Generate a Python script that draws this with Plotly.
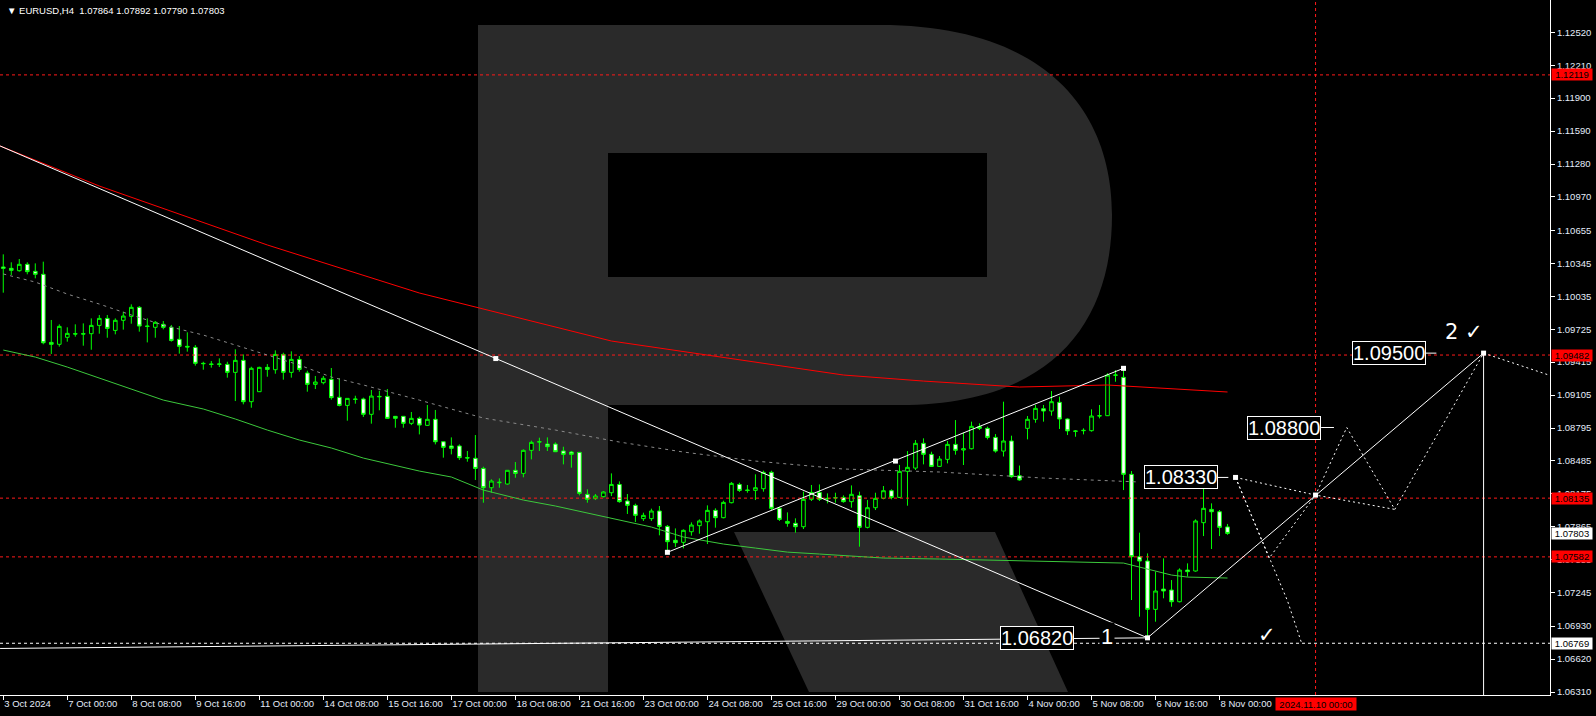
import plotly.graph_objects as go

# ---------------- DATA ----------------
opens = [1.10311, 1.10298, 1.10276, 1.10336, 1.10270, 1.10242, 1.09601, 1.09583, 1.09649, 1.09683,
         1.09683, 1.09683, 1.09761, 1.09827, 1.09714, 1.09809, 1.09846, 1.09931, 1.09755, 1.09743,
         1.09771, 1.09743, 1.09630, 1.09564, 1.09554, 1.09404, 1.09398, 1.09394, 1.09394, 1.09319,
         1.09432, 1.09043, 1.09137, 1.09366, 1.09344, 1.09488, 1.09319, 1.09441, 1.09313, 1.09206,
         1.09222, 1.09253, 1.09084, 1.09008, 1.09068, 1.09068, 1.08924, 1.09093, 1.09093, 1.08905,
         1.08905, 1.08839, 1.08886, 1.08820, 1.08877, 1.08666, 1.08626, 1.08626, 1.08516, 1.08510,
         1.08415, 1.08233, 1.08280, 1.08268, 1.08397, 1.08368, 1.08585, 1.08663, 1.08644, 1.08644,
         1.08579, 1.08569, 1.08566, 1.08171, 1.08130, 1.08149, 1.08186, 1.08264, 1.08108, 1.08067,
         1.07942, 1.07942, 1.08014, 1.07869, 1.07738, 1.07719, 1.07819, 1.07876, 1.07913, 1.08020,
         1.07951, 1.08092, 1.08264, 1.08211, 1.08208, 1.08224, 1.08378, 1.08039, 1.07916, 1.07898,
         1.07866, 1.08124, 1.08189, 1.08133, 1.08136, 1.08142, 1.08102, 1.08158, 1.07860, 1.08045,
         1.08133, 1.08205, 1.08142, 1.08387, 1.08418, 1.08651, 1.08547, 1.08434, 1.08500, 1.08641,
         1.08588, 1.08600, 1.08808, 1.08792, 1.08707, 1.08578, 1.08673, 1.08346, 1.08792, 1.08877,
         1.08977, 1.08955, 1.09037, 1.08880, 1.08768, 1.08770, 1.08770, 1.08908, 1.08911, 1.09291,
         1.09272, 1.08359, 1.07584, 1.07543, 1.07088, 1.07279, 1.07270, 1.07160, 1.07458, 1.07449,
         1.07904, 1.08029, 1.08007, 1.07864]
highs = [1.10430, 1.10355, 1.10386, 1.10355, 1.10345, 1.10361, 1.09812, 1.09771, 1.09743, 1.09771,
         1.09780, 1.09827, 1.09859, 1.09859, 1.09827, 1.09890, 1.09959, 1.09943, 1.09827, 1.09802,
         1.09802, 1.09765, 1.09755, 1.09696, 1.09576, 1.09419, 1.09426, 1.09451, 1.09419, 1.09536,
         1.09488, 1.09372, 1.09372, 1.09397, 1.09526, 1.09504, 1.09517, 1.09473, 1.09335, 1.09285,
         1.09285, 1.09360, 1.09263, 1.09074, 1.09099, 1.09081, 1.09153, 1.09146, 1.09162, 1.08905,
         1.08905, 1.08946, 1.08902, 1.09012, 1.08965, 1.08666, 1.08707, 1.08641, 1.08579, 1.08729,
         1.08431, 1.08312, 1.08321, 1.08397, 1.08475, 1.08594, 1.08676, 1.08704, 1.08707, 1.08660,
         1.08619, 1.08579, 1.08566, 1.08218, 1.08174, 1.08202, 1.08368, 1.08293, 1.08174, 1.08083,
         1.07998, 1.08036, 1.08061, 1.07882, 1.07850, 1.07841, 1.07907, 1.07935, 1.08067, 1.08039,
         1.08111, 1.08287, 1.08280, 1.08259, 1.08359, 1.08393, 1.08393, 1.08054, 1.08001, 1.07945,
         1.08196, 1.08259, 1.08264, 1.08180, 1.08186, 1.08161, 1.08255, 1.08196, 1.08117, 1.08186,
         1.08249, 1.08218, 1.08447, 1.08578, 1.08682, 1.08698, 1.08572, 1.08531, 1.08673, 1.08870,
         1.08751, 1.08855, 1.08839, 1.08808, 1.08738, 1.09043, 1.08723, 1.08442, 1.08908, 1.09012,
         1.09012, 1.09143, 1.09090, 1.08886, 1.08776, 1.08792, 1.08971, 1.09012, 1.09310, 1.09341,
         1.09357, 1.08390, 1.07810, 1.07615, 1.07443, 1.07568, 1.07364, 1.07474, 1.07521, 1.07935,
         1.08243, 1.08086, 1.08023, 1.07892]
lows = [1.10069, 1.10235, 1.10267, 1.10242, 1.10204, 1.09583, 1.09492, 1.09561, 1.09608, 1.09655,
        1.09570, 1.09532, 1.09683, 1.09645, 1.09677, 1.09721, 1.09777, 1.09702, 1.09601, 1.09645,
        1.09724, 1.09608, 1.09495, 1.09514, 1.09382, 1.09344, 1.09363, 1.09369, 1.09269, 1.09049,
        1.09018, 1.08986, 1.09134, 1.09278, 1.09306, 1.09250, 1.09269, 1.09325, 1.09137, 1.09162,
        1.09206, 1.09062, 1.08999, 1.08864, 1.09024, 1.08899, 1.08836, 1.08962, 1.08880, 1.08798,
        1.08798, 1.08823, 1.08735, 1.08814, 1.08641, 1.08516, 1.08547, 1.08494, 1.08478, 1.08306,
        1.08092, 1.08186, 1.08233, 1.08262, 1.08327, 1.08331, 1.08500, 1.08579, 1.08579, 1.08569,
        1.08453, 1.08422, 1.08161, 1.08092, 1.08117, 1.08142, 1.08155, 1.08092, 1.07986, 1.07910,
        1.07920, 1.07920, 1.07785, 1.07625, 1.07675, 1.07662, 1.07782, 1.07800, 1.07703, 1.07857,
        1.07945, 1.08086, 1.08193, 1.08186, 1.08117, 1.08196, 1.08023, 1.07920, 1.07866, 1.07810,
        1.07844, 1.08108, 1.08108, 1.08086, 1.08092, 1.08092, 1.08045, 1.07678, 1.07850, 1.08023,
        1.08124, 1.08124, 1.08139, 1.08064, 1.08400, 1.08453, 1.08431, 1.08431, 1.08462, 1.08544,
        1.08447, 1.08594, 1.08776, 1.08688, 1.08563, 1.08527, 1.08327, 1.08299, 1.08688, 1.08845,
        1.08855, 1.08911, 1.08786, 1.08729, 1.08713, 1.08735, 1.08761, 1.08886, 1.08908, 1.09231,
        1.08211, 1.07176, 1.07019, 1.06820, 1.06972, 1.07192, 1.07113, 1.07154, 1.07396, 1.07443,
        1.07778, 1.07656, 1.07778, 1.07790]
closes = [1.10298, 1.10279, 1.10336, 1.10267, 1.10242, 1.09598, 1.09583, 1.09752, 1.09686, 1.09680,
          1.09680, 1.09761, 1.09827, 1.09733, 1.09809, 1.09849, 1.09931, 1.09755, 1.09752, 1.09790,
          1.09743, 1.09620, 1.09564, 1.09558, 1.09404, 1.09401, 1.09394, 1.09398, 1.09319, 1.09432,
          1.09043, 1.09357, 1.09366, 1.09347, 1.09488, 1.09319, 1.09441, 1.09347, 1.09206, 1.09228,
          1.09263, 1.09081, 1.09008, 1.09074, 1.09065, 1.08924, 1.09096, 1.09090, 1.08886, 1.08886,
          1.08839, 1.08886, 1.08823, 1.08877, 1.08666, 1.08613, 1.08604, 1.08516, 1.08513, 1.08415,
          1.08233, 1.08296, 1.08284, 1.08397, 1.08368, 1.08585, 1.08660, 1.08666, 1.08619, 1.08572,
          1.08547, 1.08547, 1.08180, 1.08124, 1.08155, 1.08193, 1.08264, 1.08102, 1.08067, 1.07973,
          1.07973, 1.08014, 1.07869, 1.07725, 1.07716, 1.07832, 1.07882, 1.07920, 1.08020, 1.07951,
          1.08095, 1.08274, 1.08208, 1.08208, 1.08233, 1.08378, 1.08039, 1.07935, 1.07898, 1.07866,
          1.08124, 1.08189, 1.08124, 1.08130, 1.08139, 1.08102, 1.08171, 1.07860, 1.08045, 1.08133,
          1.08205, 1.08142, 1.08387, 1.08425, 1.08651, 1.08547, 1.08434, 1.08503, 1.08641, 1.08585,
          1.08600, 1.08811, 1.08792, 1.08707, 1.08578, 1.08673, 1.08337, 1.08306, 1.08877, 1.08980,
          1.08955, 1.09043, 1.08880, 1.08768, 1.08764, 1.08773, 1.08908, 1.08911, 1.09294, 1.09294,
          1.08359, 1.07584, 1.07543, 1.07088, 1.07261, 1.07261, 1.07160, 1.07458, 1.07443, 1.07920,
          1.08039, 1.08007, 1.07860, 1.07803]
bar_idx = list(range(len(closes)))

# moving averages, read at sparse bars
ma_red_x = [-0.4, 12, 33, 52, 76, 105, 115, 127, 138, 153]
ma_red_y = [1.11450, 1.11073, 1.10518, 1.10066, 1.09614, 1.09294, 1.09237, 1.09181, 1.09200, 1.09134]
ma_grey_x = [0, 4, 8, 12, 16, 20, 25, 29, 33, 37, 41, 45, 52, 60, 69, 77, 85, 94, 105, 117, 130, 140, 142]
ma_grey_y = [1.10245, 1.10169, 1.10056, 1.09962, 1.09859, 1.09764, 1.09670, 1.09576, 1.09482, 1.09388,
             1.09275, 1.09200, 1.09058, 1.08889, 1.08776, 1.08663, 1.08569, 1.08484, 1.08409, 1.08381,
             1.08324, 1.08296, 1.08287]
ma_green_x = [0, 4, 8, 12, 16, 20, 25, 29, 33, 37, 41, 45, 52, 56, 60, 65, 69, 73, 77, 81, 85, 90, 94,
              98, 102, 106, 110, 117, 130, 140, 142, 146, 148, 153]
ma_green_y = [1.09529, 1.09463, 1.09369, 1.09266, 1.09162, 1.09058, 1.08974, 1.08880, 1.08776, 1.08682,
              1.08607, 1.08512, 1.08390, 1.08334, 1.08211, 1.08117, 1.08061, 1.07995, 1.07929, 1.07863,
              1.07769, 1.07703, 1.07665, 1.07627, 1.07609, 1.07590, 1.07571, 1.07562, 1.07543, 1.07524,
              1.07486, 1.07411, 1.07392, 1.07383]

# trend lines (bar index, price)
trend_a_x = [-0.4, 143]
trend_a_y = [1.11450, 1.06820]
trend_b_x = [83, 140]
trend_b_y = [1.07625, 1.09357]
trend_c_x = [143, 185]
trend_c_y = [1.06820, 1.09500]
support_x = [-0.4, 143]
support_y = [1.06720, 1.06820]
anchor_x = [61.55, 83, 111.5, 140, 143, 185, 164, 154]
anchor_y = [1.09449, 1.07625, 1.08484, 1.09357, 1.06820, 1.09500, 1.08164, 1.08330]

# forecast paths
fc1_x = [154, 158.2, 164, 167.9, 173.9, 185, 193.3]
fc1_y = [1.08330, 1.07570, 1.08164, 1.08800, 1.08029, 1.09500, 1.09290]
fc2_x = [154, 164, 173.9]
fc2_y = [1.08330, 1.08164, 1.08029]
fc3_x = [154, 158.2, 160.5, 162.2]
fc3_y = [1.08330, 1.07570, 1.07167, 1.06783]

# levels
red_levels = [1.12119, 1.09482, 1.08135, 1.07582]
white_dash_level = 1.06769
targets = [1.09500, 1.08800, 1.08330, 1.06820]
badge_red = [1.12119, 1.09482, 1.08135, 1.07582]
badge_white = [1.07803, 1.06769]
vline_idx = 164
vline_label = "2024.11.10 00:00"

ytick_vals = [1.12520, 1.12210, 1.11900, 1.11590, 1.11280, 1.10970, 1.10655, 1.10345, 1.10035, 1.09725,
              1.09415, 1.09105, 1.08795, 1.08485, 1.08175, 1.07865, 1.07555, 1.07245, 1.06930, 1.06620,
              1.06310]
xtick_idx = [0, 8, 16, 24, 32, 40, 48, 56, 64, 72, 80, 88, 96, 104, 112, 120, 128, 136, 144, 152]
xtick_text = ["3 Oct 2024", "7 Oct 00:00", "8 Oct 08:00", "9 Oct 16:00", "11 Oct 00:00", "14 Oct 08:00",
              "15 Oct 16:00", "17 Oct 00:00", "18 Oct 08:00", "21 Oct 16:00", "23 Oct 00:00",
              "24 Oct 08:00", "25 Oct 16:00", "29 Oct 00:00", "30 Oct 08:00", "31 Oct 16:00",
              "4 Nov 00:00", "5 Nov 08:00", "6 Nov 16:00", "8 Nov 00:00"]
header = "EURUSD,H4  1.07864 1.07892 1.07790 1.07803"

# ---------------- LAYOUT ----------------
W, H = 1596, 716
ML, MR, MT, MB = 0, 46, 0, 21
PW, PH = W - ML - MR, H - MT - MB
X0, X1 = -0.41, 193.3
Y0, Y1 = 1.06282, 1.12824
FONT = "Liberation Sans"
LBL = "#e4ecfa"


def pth(cmds):
    out = []
    for c in cmds:
        op, pts = c[0], c[1:]
        coords = []
        for k in range(0, len(pts), 2):
            coords.append(f"{pts[k] / PW:.5f},{1 - pts[k + 1] / PH:.5f}")
        out.append(op + " " + " ".join(coords))
    return " ".join(out)


fig = go.Figure()

# watermark "R"
logo_col = "#2a2a2a"
outer = pth([("M", 478, 25), ("L", 880, 25), ("C", 1045, 25, 1112, 110, 1112, 215),
             ("C", 1112, 330, 1045, 405, 900, 405), ("L", 608, 405), ("L", 608, 692),
             ("L", 478, 692)]) + " Z " + pth([("M", 608, 153), ("L", 987, 153), ("L", 987, 277),
                                               ("L", 608, 277)]) + " Z"
fig.add_shape(type="path", path=outer, xref="paper", yref="paper", fillcolor=logo_col,
              line=dict(width=0), layer="below", fillrule="evenodd")
leg = pth([("M", 734, 532), ("L", 995, 532), ("L", 1068, 692), ("L", 809, 692)]) + " Z"
fig.add_shape(type="path", path=leg, xref="paper", yref="paper", fillcolor=logo_col,
              line=dict(width=0), layer="below")


def line(xs, ys, color, width=1, dash="solid"):
    fig.add_trace(go.Scatter(x=xs, y=ys, mode="lines", line=dict(color=color, width=width, dash=dash),
                             hoverinfo="skip", showlegend=False))


# horizontal levels
for lv in red_levels:
    line([X0, X1], [lv, lv], "#ff1a1a", 1, "3px,3px")
line([X0, X1], [white_dash_level, white_dash_level], "#ffffff", 1, "3px,3px")
line([vline_idx, vline_idx], [Y0, Y1], "#ff1a1a", 1, "3px,3px")

# moving averages
line(ma_red_x, ma_red_y, "#ff0000", 1)
line(ma_grey_x, ma_grey_y, "#8a8a8a", 1, "3px,4px")
line(ma_green_x, ma_green_y, "#3cc83c", 1)

# candles
fig.add_trace(go.Candlestick(
    x=bar_idx, open=opens, high=highs, low=lows, close=closes,
    increasing=dict(line=dict(color="#00ff00", width=1), fillcolor="#000000"),
    decreasing=dict(line=dict(color="#00ff00", width=1), fillcolor="#ffffff"),
    whiskerwidth=0, showlegend=False, hoverinfo="skip"))

# trend lines
line(trend_a_x, trend_a_y, "#ffffff", 1)
line(trend_b_x, trend_b_y, "#ffffff", 1)
line(trend_c_x, trend_c_y, "#ffffff", 1)
line(support_x, support_y, "#ffffff", 1)
line([trend_c_x[1], trend_c_x[1]], [trend_c_y[1], Y0], "#ffffff", 1)

# forecasts
for fx, fy in [(fc1_x, fc1_y), (fc2_x, fc2_y), (fc3_x, fc3_y)]:
    line(fx, fy, "#ffffff", 1, "2px,3px")

fig.add_trace(go.Scatter(x=anchor_x, y=anchor_y, mode="markers",
                         marker=dict(symbol="square", size=5, color="#ffffff"),
                         hoverinfo="skip", showlegend=False))

# target label boxes with connectors
box_right = {1.09500: 177.8, 1.08800: 164.7, 1.08330: 151.8, 1.06820: 133.8}
conn_end = {1.09500: 179.1, 1.08800: 166.3, 1.08330: 153.1}
for t, e in conn_end.items():
    line([box_right[t], e], [t, t], "#ffffff", 1)
for t in targets:
    fig.add_annotation(x=box_right[t], y=t, xanchor="right", yanchor="middle", showarrow=False,
                       text=f"{t:.5f}", font=dict(family=FONT, size=20, color="#ffffff"),
                       bgcolor="#000000", bordercolor="#ffffff", borderwidth=1, borderpad=0)
fig.add_annotation(x=182.6, y=1.09699, text="2 \u2713", showarrow=False,
                   font=dict(family="DejaVu Sans", size=21, color="#ffffff"))
fig.add_annotation(x=137.9, y=1.06835, text="1", showarrow=False, bgcolor="#000000",
                   font=dict(family=FONT, size=22, color="#ffffff"))
fig.add_annotation(x=157.9, y=1.06851, text="\u2713", showarrow=False,
                   font=dict(family="DejaVu Sans", size=21, color="#ffffff"))

# header
fig.add_annotation(xref="paper", yref="paper", x=0, y=1, xanchor="left", yanchor="top", xshift=5,
                   yshift=-3, showarrow=False, text="\u25bc " + header,
                   font=dict(family=FONT, size=9.5, color="#ffffff"))

# price badges
for v in badge_red:
    fig.add_annotation(xref="paper", x=1, xanchor="left", xshift=1, yref="y", y=v, text=f"{v:.5f}",
                       showarrow=False, bgcolor="#ff0000", width=40, height=11, borderpad=0,
                       font=dict(family=FONT, size=9.5, color="#000000"))
for v in badge_white:
    fig.add_annotation(xref="paper", x=1, xanchor="left", xshift=1, yref="y", y=v, text=f"{v:.5f}",
                       showarrow=False, bgcolor="#ffffff", width=40, height=11, borderpad=0,
                       font=dict(family=FONT, size=9.5, color="#000000"))
fig.add_annotation(xref="x", x=vline_idx, yref="paper", y=0, yanchor="top", yshift=-2,
                   text=vline_label, showarrow=False, bgcolor="#ff0000", width=80, height=12,
                   borderpad=0, font=dict(family=FONT, size=9.5, color="#000000"))

fig.update_layout(
    width=W, height=H, autosize=False,
    margin=dict(l=ML, r=MR, t=MT, b=MB, pad=0, autoexpand=False),
    paper_bgcolor="#000000", plot_bgcolor="#000000",
    showlegend=False, boxgap=0.35, hovermode=False,
    xaxis=dict(range=[X0, X1], showgrid=False, zeroline=False, rangeslider=dict(visible=False),
               tickmode="array", tickvals=xtick_idx, ticktext=xtick_text, ticks="outside",
               ticklen=4, tickcolor="#ffffff", ticklabelposition="outside right", automargin=False,
               tickfont=dict(family=FONT, size=9.5, color=LBL), showline=True, linecolor="#ffffff",
               linewidth=1, mirror=True, fixedrange=True),
    yaxis=dict(range=[Y0, Y1], side="right", showgrid=False, zeroline=False, tickmode="array",
               tickvals=ytick_vals, ticktext=[f"{v:.5f}" for v in ytick_vals], ticks="outside",
               ticklen=4, tickcolor="#ffffff", tickfont=dict(family=FONT, size=9.5, color=LBL),
               automargin=False, showline=True, linecolor="#ffffff", linewidth=1, mirror=True,
               fixedrange=True),
)

fig.write_html("out.html", config={"displayModeBar": False},
               post_script="document.body.style.margin='0';document.body.style.background='#000';")
